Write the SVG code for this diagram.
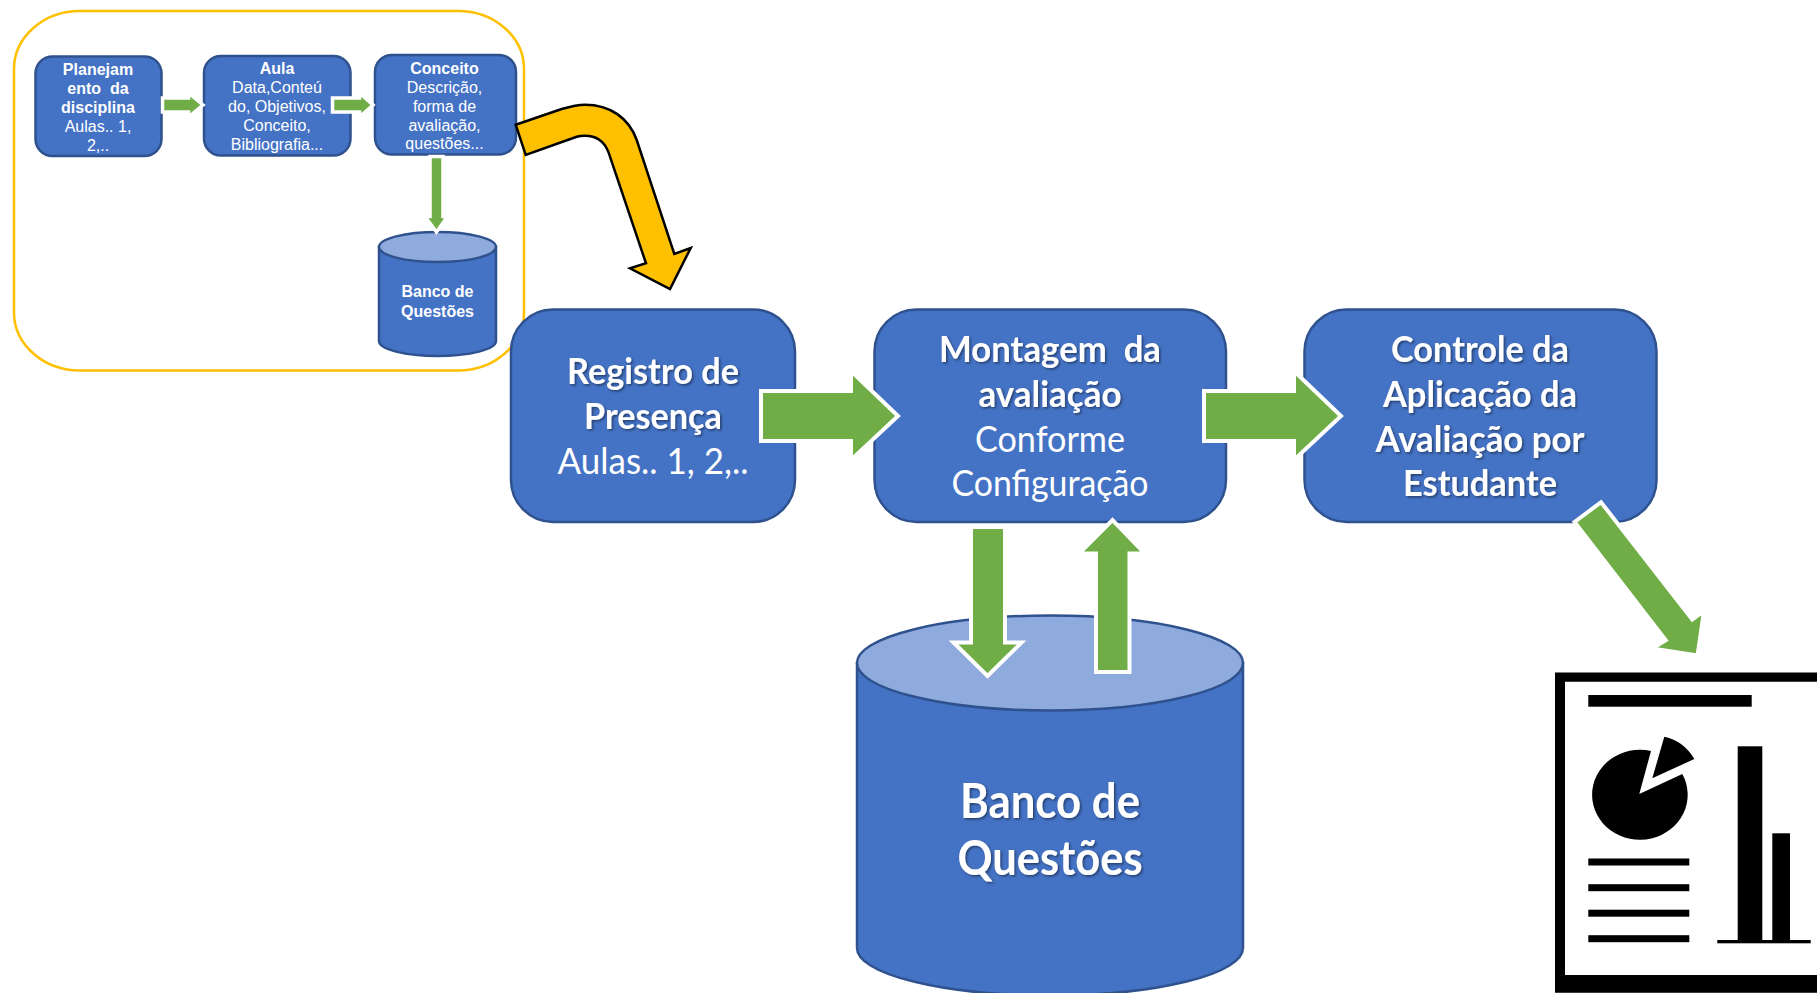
<svg xmlns="http://www.w3.org/2000/svg" width="1817" height="993" viewBox="0 0 1817 993">
<defs>
<style>
.node{fill:#4472C4;stroke:#2F528F;stroke-width:2.5}
.top{fill:#8FAADC;stroke:#2F528F;stroke-width:2.5}
.arrow{fill:#70AD47;stroke:#fff;stroke-linejoin:miter;stroke-miterlimit:8}
.big{stroke-width:4}
.small{stroke-width:3.5}
text{fill:#fff;text-anchor:middle}
.s{font-family:"Liberation Sans",Arial,sans-serif;font-size:16px}
.b{font-weight:bold}
.l{font-family:Lato,"Open Sans",sans-serif;font-size:37px}
.h{font-family:Lato,"Open Sans",sans-serif;font-size:37px;font-weight:bold;filter:url(#sh)}
.x{font-family:Lato,"Open Sans",sans-serif;font-size:47px;font-weight:bold;filter:url(#sh)}
</style>
<filter id="sh" x="-10%" y="-20%" width="120%" height="150%"><feDropShadow dx="1.5" dy="1.5" stdDeviation="1" flood-color="#000" flood-opacity="0.45"/></filter>
</defs>
<rect width="1817" height="993" fill="#fff"/>
<g id="frame"><rect x="14" y="11" width="510" height="359.500" rx="66" ry="58" fill="none" stroke="#FFC000" stroke-width="2.500"/></g>
<g id="planejamento">
<rect class="node" x="35.500" y="56.500" width="126" height="99.500" rx="17"/>
<text class="s b" x="98" y="74.500">Planejam</text>
<text class="s b" x="98" y="93.500" xml:space="preserve">ento  da</text>
<text class="s b" x="98" y="112.500">disciplina</text>
<text class="s" x="98" y="131.500">Aulas.. 1,</text>
<text class="s" x="98" y="150.500">2,..</text>
</g>
<g id="aula">
<rect class="node" x="204" y="56" width="146.500" height="99.500" rx="17"/>
<text class="s b" x="277" y="73.500">Aula</text>
<text class="s" x="277" y="92.500">Data,Conteú</text>
<text class="s" x="277" y="111.500">do, Objetivos,</text>
<text class="s" x="277" y="130.500">Conceito,</text>
<text class="s" x="277" y="149.500">Bibliografia...</text>
</g>
<g id="conceito">
<rect class="node" x="375" y="55" width="141" height="99.500" rx="17"/>
<text class="s b" x="444.500" y="73.500">Conceito</text>
<text class="s" x="444.500" y="92.500">Descrição,</text>
<text class="s" x="444.500" y="111.500">forma de</text>
<text class="s" x="444.500" y="130.500">avaliação,</text>
<text class="s" x="444.500" y="149">questões...</text>
</g>
<g id="banco-pequeno">
<path class="node" d="M379 247V341A58.500 15 0 0 0 496 341V247Z"/>
<ellipse class="top" cx="437.500" cy="247" rx="58.500" ry="15"/>
<text class="s b" x="437.500" y="297">Banco de</text>
<text class="s b" x="437.500" y="317">Questões</text>
</g>
<g id="registro">
<rect class="node" x="511" y="309.500" width="284" height="212.500" rx="42"/>
<text class="h" x="653" y="384" textLength="172" lengthAdjust="spacingAndGlyphs">Registro de</text>
<text class="h" x="653" y="429" textLength="138" lengthAdjust="spacingAndGlyphs">Presença</text>
<text class="l" x="653" y="474" textLength="191" lengthAdjust="spacingAndGlyphs">Aulas.. 1, 2,..</text>
</g>
<g id="montagem">
<rect class="node" x="874.500" y="309.500" width="351.500" height="212.500" rx="42"/>
<text class="h" x="1050" y="362" textLength="222" lengthAdjust="spacingAndGlyphs" xml:space="preserve">Montagem  da</text>
<text class="h" x="1050" y="407" textLength="143" lengthAdjust="spacingAndGlyphs">avaliação</text>
<text class="l" x="1050" y="452" textLength="150" lengthAdjust="spacingAndGlyphs">Conforme</text>
<text class="l" x="1050" y="496" textLength="197" lengthAdjust="spacingAndGlyphs">Configuração</text>
</g>
<g id="controle">
<rect class="node" x="1304.500" y="309.500" width="352" height="212.500" rx="42"/>
<text class="h" x="1480" y="362" textLength="178" lengthAdjust="spacingAndGlyphs">Controle da</text>
<text class="h" x="1480" y="407" textLength="194" lengthAdjust="spacingAndGlyphs">Aplicação da</text>
<text class="h" x="1480" y="452" textLength="209" lengthAdjust="spacingAndGlyphs">Avaliação por</text>
<text class="h" x="1480" y="496" textLength="154" lengthAdjust="spacingAndGlyphs">Estudante</text>
</g>
<g id="banco">
<path class="node" d="M857 663V948A193 47.500 0 0 0 1243 948V663Z"/>
<ellipse class="top" cx="1050" cy="663" rx="193" ry="47.500"/>
<text class="x" x="1050" y="818" textLength="180" lengthAdjust="spacingAndGlyphs">Banco de</text>
<text class="x" x="1050" y="875" textLength="185" lengthAdjust="spacingAndGlyphs">Questões</text>
</g>
<g id="relatorio">
<path d="M1555 672.500H1817V681.700H1565V975H1817V992.700H1555Z" fill="#000"/>
<rect x="1588.300" y="695" width="163.400" height="11.700" fill="#000"/>
<path d="M1639.300 794L1651 751A47.800 45 0 1 0 1682.300 774Z" fill="#000"/>
<path d="M1652.300 778.300L1664.300 736.700Q1684 741 1694.300 759Z" fill="#000"/>
<rect x="1588.300" y="858.500" width="101" height="7" fill="#000"/>
<rect x="1588.300" y="884.200" width="101" height="7" fill="#000"/>
<rect x="1588.300" y="909.700" width="101" height="7" fill="#000"/>
<rect x="1588.300" y="935.200" width="101" height="7" fill="#000"/>
<rect x="1737.700" y="746.300" width="24.600" height="194" fill="#000"/>
<rect x="1772.300" y="833.300" width="17.700" height="107" fill="#000"/>
<rect x="1717.300" y="940" width="93.400" height="3.300" fill="#000"/>
</g>
<g id="connectors">
<path class="arrow small" d="M162.500 98H188.500V93L203 105L188.500 117V112H162.500Z"/>
<path class="arrow small" d="M332.500 98H359.500V93L373 105L359.500 117V112H332.500Z"/>
<path class="arrow small" d="M430 156.500H443V216.500H447.500L436.500 232L425 216.500H430Z"/>
<path d="M515.700 124.700L561.700 109C572 106 578 104.700 585 104.700C610 104.700 629 118 636.700 140L674.300 254L690.700 248L670 289L630 268.300L646 263.300L608.300 151.700C604 141 596 135.700 585 135.700C581 135.700 579 136 576.700 136.700L525.700 155Z" fill="#FFC000" stroke="#000" stroke-width="2.500" stroke-linejoin="miter"/>
<path class="arrow big" d="M761 391H851V371L898 416L851 460V441H761Z"/>
<path class="arrow big" d="M1204 391H1294V371L1341 416L1294 460V441H1204Z"/>
<path class="arrow big" d="M971 527H1005V642.500H1021.500L987.500 676L953.500 642.500H971Z"/>
<path class="arrow big" d="M1096 672V553.500H1079L1112.500 520L1145 553.500H1129.500V672Z"/>
<path class="arrow big" d="M1574.500 522L1601 502.200L1692.300 619.500L1704 611L1697.500 655.500L1652 648.500L1665.700 640.200Z"/>
</g>
</svg>
